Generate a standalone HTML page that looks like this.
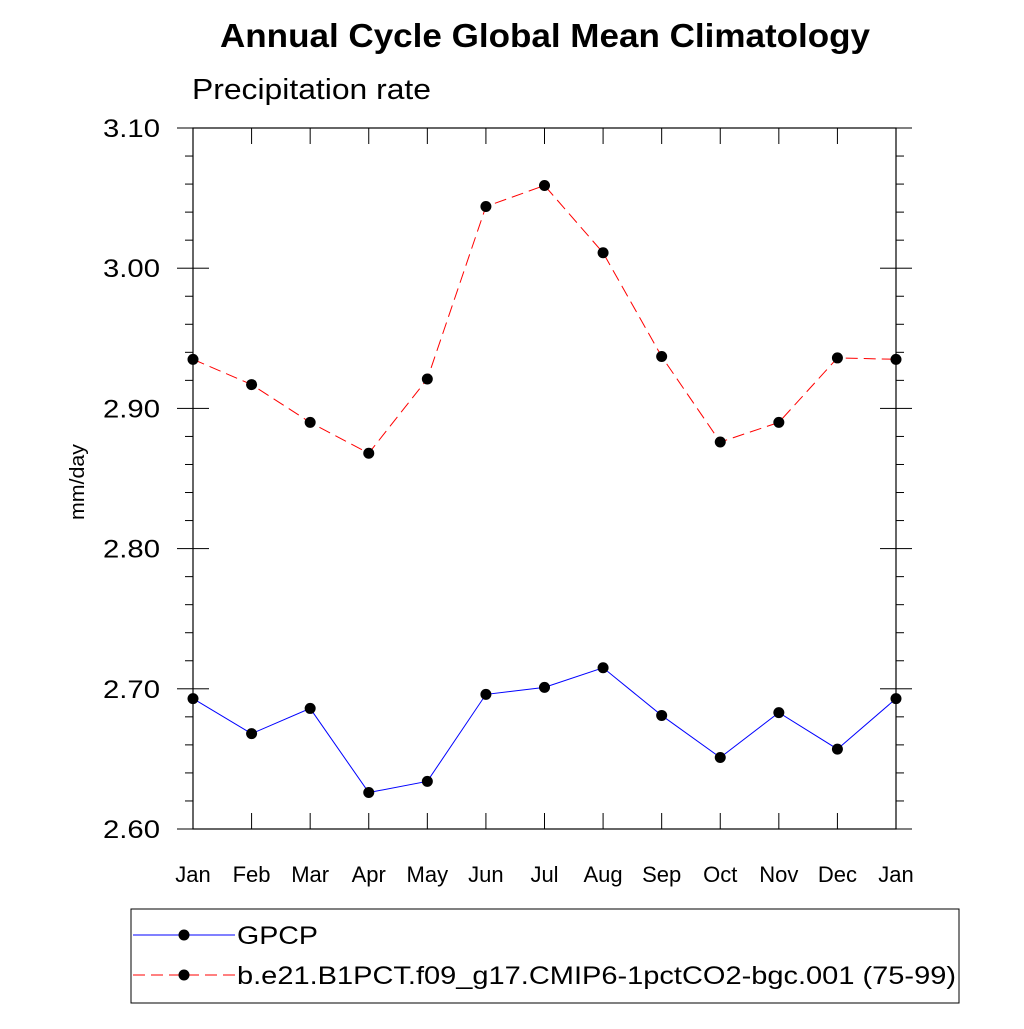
<!DOCTYPE html>
<html><head><meta charset="utf-8"><style>
body{margin:0;background:#fff;font-family:"Liberation Sans",sans-serif}
</style></head><body>
<svg width="1024" height="1024" xmlns="http://www.w3.org/2000/svg" font-family="Liberation Sans, sans-serif">
<text x="220" y="47" textLength="650" lengthAdjust="spacingAndGlyphs" font-size="33" font-weight="bold">Annual Cycle Global Mean Climatology</text>
<text x="192" y="99" textLength="239" lengthAdjust="spacingAndGlyphs" font-size="29">Precipitation rate</text>
<text transform="translate(84,482) rotate(-90)" text-anchor="middle" font-size="20" textLength="76" lengthAdjust="spacingAndGlyphs">mm/day</text>
<rect x="193" y="128" width="703" height="701" fill="none" stroke="#000" stroke-width="1.2"/>
<g id="ticks"></g>
<g id="series"></g>
<g>
<rect x="131" y="909" width="828" height="94" fill="none" stroke="#000" stroke-width="1"/>
<g>
<line x1="133" y1="935" x2="235" y2="935" stroke="#00f" stroke-width="1"/>
<circle cx="184" cy="935" r="5.5" fill="#000"/>
<text x="237" y="944" font-size="25" textLength="81" lengthAdjust="spacingAndGlyphs">GPCP</text></g>
<g>
<line x1="133" y1="975" x2="235" y2="975" stroke="#f00" stroke-width="1" stroke-dasharray="12,6"/>
<circle cx="184" cy="975" r="5.5" fill="#000"/>
<text x="237" y="984" font-size="25" textLength="719" lengthAdjust="spacingAndGlyphs">b.e21.B1PCT.f09_g17.CMIP6-1pctCO2-bgc.001 (75-99)</text></g>
</g>
</svg>
<script>
const months=["Jan","Feb","Mar","Apr","May","Jun","Jul","Aug","Sep","Oct","Nov","Dec","Jan"];
const gpcp=[2.693,2.668,2.686,2.626,2.634,2.696,2.701,2.715,2.681,2.651,2.683,2.657,2.693];
const model=[2.935,2.917,2.890,2.868,2.921,3.044,3.059,3.011,2.937,2.876,2.890,2.936,2.935];
const yTicks=["2.60","2.70","2.80","2.90","3.00","3.10"];
const NS="http://www.w3.org/2000/svg";
const x0=193,x1=896,yTop=128,yBot=829,ymin=2.6,ymax=3.1;
const xs=i=>x0+(x1-x0)*i/(months.length-1);
const ys=v=>yBot-(v-ymin)/(ymax-ymin)*(yBot-yTop);
function mk(tag,attrs,parent){const e=document.createElementNS(NS,tag);for(const k in attrs)e.setAttribute(k,attrs[k]);parent.appendChild(e);return e;}
const tg=document.getElementById('ticks');
months.forEach((m,i)=>{const x=xs(i);
 mk('line',{x1:x,y1:yBot,x2:x,y2:yBot-16,stroke:'#000'},tg);
 mk('line',{x1:x,y1:yTop,x2:x,y2:yTop+16,stroke:'#000'},tg);
 const t=mk('text',{x:x,y:882,'text-anchor':'middle','font-size':22},tg);t.textContent=m;
 
 
});
for(let k=0;k<=25;k++){const v=ymin+k*0.02,y=ys(v),maj=k%5===0,len=maj?16:8;
 mk('line',{x1:x0-len,y1:y,x2:x0,y2:y,stroke:'#000'},tg);
 mk('line',{x1:x1,y1:y,x2:x1+len,y2:y,stroke:'#000'},tg);
 if(maj){mk('line',{x1:x0,y1:y,x2:x0+16,y2:y,stroke:'#000'},tg);mk('line',{x1:x1-16,y1:y,x2:x1,y2:y,stroke:'#000'},tg);}
}
yTicks.forEach(s=>{const t=mk('text',{x:103,y:ys(parseFloat(s))+9,'font-size':25,textLength:57,lengthAdjust:'spacingAndGlyphs'},tg);t.textContent=s;
 
 });
const sg=document.getElementById('series');
function draw(arr,color,dash,name){
 const p=mk('polyline',{points:arr.map((v,i)=>xs(i)+','+ys(v)).join(' '),fill:'none',stroke:color,'stroke-width':1,'stroke-dasharray':dash},sg);
 
 
 arr.forEach((v,i)=>{const c=mk('circle',{cx:xs(i),cy:ys(v),r:5.5,fill:'#000'},sg);
  
  });
}
draw(gpcp,'#00f','none','gpcp');
draw(model,'#f00','12,6','model');
</script>
</body></html>
